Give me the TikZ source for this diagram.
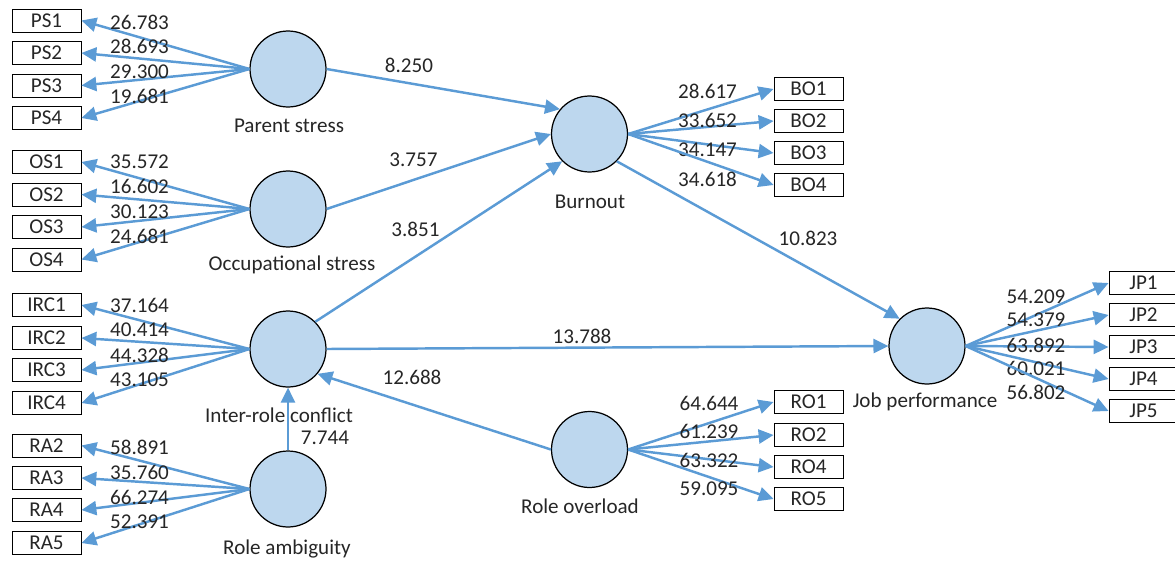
\documentclass[tikz,border=0pt]{standalone}
\usepackage{fontspec}
\setmainfont{Carlito}
\usetikzlibrary{arrows.meta}
\definecolor{pathblue}{RGB}{91,155,213}
\definecolor{latentfill}{RGB}{189,215,238}

\begin{document}
\begin{tikzpicture}[x=0.02cm,y=-0.02cm,>={Triangle[length=8.5pt,width=8pt]},font=\fontsize{12}{14}\selectfont]
	\tikzstyle{latent}=[circle, draw=black, fill=latentfill, line width=0.7pt, minimum size=1.52cm, inner sep=0pt]
	\tikzstyle{indicator}=[rectangle, draw=black, line width=0.5pt, minimum width=1.38cm, minimum height=0.46cm, inner sep=0pt, text=black!85]
	\tikzstyle{path}=[->, draw=pathblue, line width=1.4pt]
	\tikzstyle{value}=[text=black!85, inner sep=0pt]

	\clip (0,0) rectangle (1175,561);

	\node [latent] (ps) at (288,69) {};
	\node [latent] (os) at (288,209) {};
	\node [latent] (irc) at (288,349) {};
	\node [latent] (ra) at (288,489) {};
	\node [latent] (bo) at (589.5,134) {};
	\node [latent] (ro) at (589.5,449.5) {};
	\node [latent] (jp) at (927,346) {};

	\node [value] (nps) at (289,126) {Parent stress};
	\node [value] (nos) at (292,265) {Occupational stress};
	\node [value] (nirc) at (279,415) {Inter-role conflict};
	\node [value] (nra) at (287,549) {Role ambiguity};
	\node [value] (nbo) at (590,201.5) {Burnout};
	\node [value] (nro) at (580,506) {Role overload};
	\node [value] (njp) at (925,402) {Job performance};

	\foreach \n/\y/\ly/\v in {1/20.5/22/26.783, 2/53/46.5/28.693, 3/85.5/71.5/29.300, 4/118/96.5/19.681}{
		\node [indicator] (ps\n) at (46.5,\y) {PS\n};
		\draw [path] (ps.west) -- (ps\n.east);
		\node [value] (tps\n) at (139.5,\ly) {\v};
	}
	\foreach \n/\y/\ly/\v in {1/162/161.5/35.572, 2/194.5/186.5/16.602, 3/227/211.5/30.123, 4/259.5/236.5/24.681}{
		\node [indicator] (os\n) at (46.5,\y) {OS\n};
		\draw [path] (os.west) -- (os\n.east);
		\node [value] (tos\n) at (139.5,\ly) {\v};
	}
	\foreach \n/\y/\ly/\v in {1/305/305/37.164, 2/338/330/40.414, 3/370/355/44.328, 4/403/380/43.105}{
		\node [indicator] (irc\n) at (46.5,\y) {IRC\n};
		\draw [path] (irc.west) -- (irc\n.east);
		\node [value] (tirc\n) at (139.5,\ly) {\v};
	}
	\foreach \n/\y/\ly/\v in {2/445.5/447/58.891, 3/478/472/35.760, 4/510/497/66.274, 5/543/522/52.391}{
		\node [indicator] (ra\n) at (46.5,\y) {RA\n};
		\draw [path] (ra.west) -- (ra\n.east);
		\node [value] (tra\n) at (139.5,\ly) {\v};
	}
	\foreach \n/\y/\ly/\v in {1/89/91.5/28.617, 2/121/120/33.652, 3/153/150/34.147, 4/185/179/34.618}{
		\node [indicator] (bo\n) at (808.5,\y) {BO\n};
		\draw [path] (bo.east) -- (bo\n.west);
		\node [value] (tbo\n) at (707.5,\ly) {\v};
	}
	\foreach \n/\y/\ly/\v in {1/402/403.5/64.644, 2/435/431.5/61.239, 4/467/460/63.322, 5/499/488.5/59.095}{
		\node [indicator] (ro\n) at (808.5,\y) {RO\n};
		\draw [path] (ro.east) -- (ro\n.west);
		\node [value] (tro\n) at (709,\ly) {\v};
	}
	\foreach \n/\y/\ly/\v in {1/283/296.5/54.209, 2/315/320/54.379, 3/347/345/63.892, 4/379/368.5/60.021, 5/411/392.5/56.802}{
		\node [indicator] (jp\n) at (1143.5,\y) {JP\n};
		\draw [path] (jp.east) -- (jp\n.west);
		\node [value] (tjp\n) at (1036,\ly) {\v};
	}

	\draw [path] (ps.east) -- (bo.140);
	\draw [path] (os.east) -- (bo.west);
	\draw [path] (irc.45) -- (bo.225);
	\draw [path] (bo.315) -- (jp.135);
	\draw [path] (irc.east) -- (jp.west);
	\draw [path] (ro.west) -- (irc.320);
	\draw [path] (ra.north) -- (irc.south);

	\node [value] (b1) at (409,65) {8.250};
	\node [value] (b2) at (413.5,160) {3.757};
	\node [value] (b3) at (415.5,229.5) {3.851};
	\node [value] (b4) at (808,238) {10.823};
	\node [value] (b5) at (582,336) {13.788};
	\node [value] (b6) at (412,377) {12.688};
	\node [value] (b7) at (325,438) {7.744};
\end{tikzpicture}
\end{document}
